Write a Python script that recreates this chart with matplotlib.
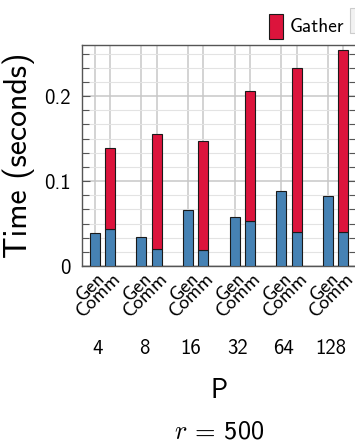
import matplotlib
matplotlib.use('Agg')
import matplotlib.pyplot as plt
import matplotlib.transforms as mtransforms
from matplotlib.patches import Patch, Rectangle
from matplotlib.ticker import MultipleLocator
import numpy as np

plt.rcParams['font.family'] = ['cmss10', 'DejaVu Sans']
plt.rcParams['mathtext.fontset'] = 'cm'
plt.rcParams['axes.unicode_minus'] = False

# ---- data ----
procs = ['4', '8', '16', '32', '64', '128']
bar_labels = ['Gen', 'Comm']
gen = [0.039, 0.034, 0.0655, 0.0576, 0.088, 0.0827]
comm = [0.044, 0.020, 0.0185, 0.053, 0.040, 0.040]
gather = [0.095, 0.135, 0.1285, 0.153, 0.1926, 0.214]
yticks = [0, 0.1, 0.2]
ytick_labels = ['0', '0.1', '0.2']

blue = '#4682B4'
red = '#DC143C'

fig = plt.figure(figsize=(3.55, 4.48), dpi=100)
ax = fig.add_axes([82/355, 1-266/448, 274/355, 221/448])

idx = np.arange(len(procs))
off = 0.166
w = 0.214
xg = idx - off
xc = idx + off
ax.bar(xg, gen, width=w, color=blue, edgecolor='#1a1a1a', linewidth=0.8, zorder=3)
ax.bar(xc, comm, width=w, color=blue, edgecolor='#1a1a1a', linewidth=0.8, zorder=3)
ax.bar(xc, gather, width=w, bottom=comm, color=red, edgecolor='#1a1a1a', linewidth=0.8, zorder=3)

ax.set_xlim(-0.434, 5.434)
ax.set_ylim(0, 0.26)

ticks = np.ravel(np.column_stack([xg, xc]))
ax.set_xticks(ticks)
ax.set_xticklabels(bar_labels * len(procs), rotation=45, ha='right', va='center',
                   rotation_mode='anchor', fontsize=14.5)
ax.tick_params(axis='x', length=0, pad=7)
for lab in ax.get_xticklabels():
    lab.set_transform(lab.get_transform() + mtransforms.ScaledTranslation(8/100, 0, fig.dpi_scale_trans))

ax.set_yticks(yticks)
ax.set_yticklabels(ytick_labels, fontsize=15)
ax.yaxis.set_minor_locator(MultipleLocator(0.1/6))
ax.tick_params(axis='y', which='major', direction='in', length=6, width=0.8, color='#555555', pad=8, right=True)
ax.tick_params(axis='y', which='minor', direction='in', length=5, width=0.8, color='#555555', right=True)

ax.grid(True, axis='x', which='major', color='#c8c8c8', linewidth=1.1, zorder=0)
ax.grid(True, axis='y', which='major', color='#c8c8c8', linewidth=1.1, zorder=0)
ax.grid(True, axis='y', which='minor', color='#e3e3e3', linewidth=0.8, zorder=0)
ax.set_axisbelow(True)
for s in ax.spines.values():
    s.set_color('#555555')
    s.set_linewidth(1.0)

ax.set_ylabel('Time (seconds)', fontsize=23)
ax.yaxis.set_label_coords(-(82 - 35) / 274, 0.5)

trans = mtransforms.blended_transform_factory(ax.transData, fig.transFigure)
for i, p in enumerate(procs):
    ax.text(i - 0.11, 1 - 348/448, p, transform=trans, ha='center', va='center', fontsize=15)

fig.text(219/355, 1 - 391/448, 'P', ha='center', va='center', fontsize=19.5)
fig.text(219/355, 1 - 432/448, '$r$ = 500', ha='center', va='center', fontsize=19)

handles = [Patch(facecolor=red, edgecolor='#1a1a1a', linewidth=0.8, label='Gather')]
fig.legend(handles=handles, loc='upper left', bbox_to_anchor=(255/355, 1.0),
           frameon=False, fontsize=14, handlelength=0.75, handleheight=1.6,
           handletextpad=0.35, borderaxespad=0.3)
fig.patches.append(Rectangle((350/355, 1 - 33/448), 6/355, 25/448, transform=fig.transFigure,
                             facecolor='#f2f2f2', edgecolor='#cccccc', linewidth=0.8))

fig.savefig('out.png', dpi=100)
